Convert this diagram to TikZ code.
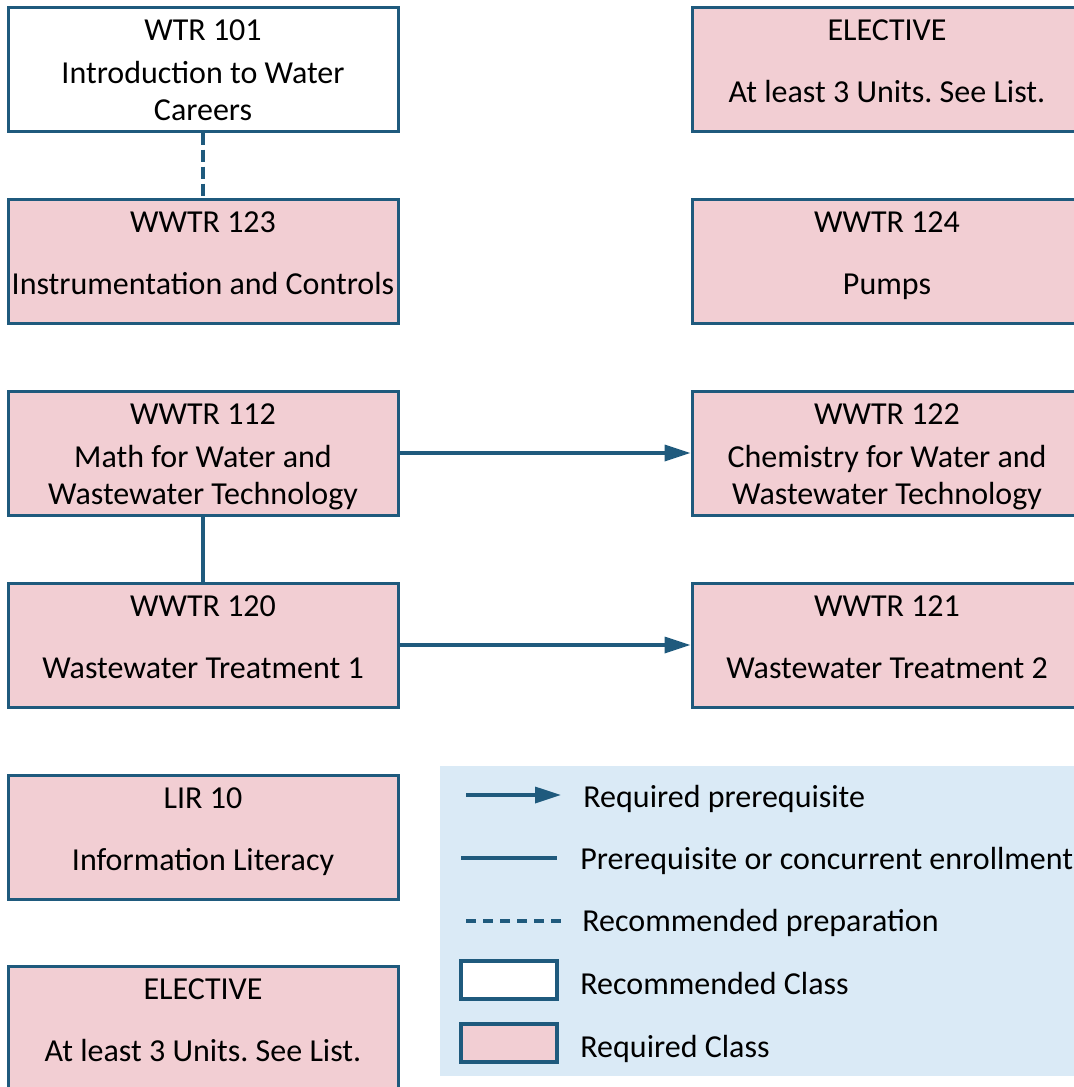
\documentclass[tikz,border=0pt]{standalone}
\usepackage{fontspec}
\setmainfont{Carlito}
\usepackage{xcolor}
\usepackage{tikz}
\usetikzlibrary{arrows.meta}
\frenchspacing

\definecolor{lineblue}{RGB}{31,90,125}
\definecolor{reqpink}{RGB}{242,206,211}
\definecolor{legendbg}{RGB}{218,234,246}

\tikzset{
    classbox/.style={draw=lineblue, line width=1.5pt, minimum width=195pt, minimum height=62pt, inner sep=0pt},
    recbox/.style={classbox, fill=white},
    reqbox/.style={classbox, fill=reqpink},
    keybox/.style={line width=2pt, minimum width=48pt, minimum height=19pt},
    txt/.style={font=\fontsize{16}{18.5}\selectfont, inner sep=0pt, text height=13pt, text depth=3pt},
    txttwo/.style={font=\fontsize{16}{18.5}\selectfont, inner sep=0pt, align=center},
    prereq/.style={draw=lineblue, line width=1.7pt, -{Triangle[length=13pt,width=8pt]}},
    coreq/.style={draw=lineblue, line width=1.7pt},
    recprep/.style={draw=lineblue, line width=1.7pt, dash pattern=on 6pt off 2.5pt},
}

\begin{document}
\begin{tikzpicture}[x=0.5pt,y=-0.5pt]
        \useasboundingbox (0,0) rectangle (1074,1087);
        \clip (0,0) rectangle (1074,1087);

        % class boxes
        \foreach \name/\x/\y/\kind in {wtr101/203/69/recbox, elecA/887/69/reqbox,
                wwtr123/203/261/reqbox, wwtr124/887/261/reqbox,
                wwtr112/203/453/reqbox, wwtr122/887/453/reqbox,
                wwtr120/203/645/reqbox, wwtr121/887/645/reqbox,
                lir10/203/837/reqbox, elecB/203/1028/reqbox}
            \node[\kind] (\name) at (\x,\y) {};

        % course numbers
        \foreach \name/\x/\y/\code in {wtr101/203/30/WTR 101, elecA/887/30/ELECTIVE,
                wwtr123/203/222/WWTR 123, wwtr124/887/222/WWTR 124,
                wwtr112/203/414/WWTR 112, wwtr122/887/414/WWTR 122,
                wwtr120/203/606/WWTR 120, wwtr121/887/606/WWTR 121,
                lir10/203/798/LIR 10, elecB/203/989/ELECTIVE}
            \node[txt] (\name-code) at (\x,\y) {\code};

        % course titles
        \node[txttwo] (wtr101-title) at (203,95) {\strut Introduction to Water\\\strut Careers};
        \node[txt] (elecA-title) at (887,92) {At least 3 Units. See List.};
        \node[txt] (wwtr123-title) at (203,284) {Instrumentation and Controls};
        \node[txt] (wwtr124-title) at (887,284) {Pumps};
        \node[txttwo] (wwtr112-title) at (203,479) {\strut Math for Water and\\\strut Wastewater Technology};
        \node[txttwo] (wwtr122-title) at (887,479) {\strut Chemistry for Water and\\\strut Wastewater Technology};
        \node[txt] (wwtr120-title) at (203,668) {Wastewater Treatment 1};
        \node[txt] (wwtr121-title) at (887,668) {Wastewater Treatment 2};
        \node[txt] (lir10-title) at (203,860) {Information Literacy};
        \node[txt] (elecB-title) at (203,1051) {At least 3 Units. See List.};

        % connectors
        \draw[recprep] (wtr101.south) -- (wwtr123.north);
        \draw[coreq] (wwtr112.south) -- (wwtr120.north);
        \draw[prereq] (wwtr112.east) -- (wwtr122.west);
        \draw[prereq] (wwtr120.east) -- (wwtr121.west);

        % legend
        \fill[legendbg] (440,766) rectangle (1080,1076);
        \coordinate (keyA1) at (466,795);
        \coordinate (keyA2) at (561,795);
        \coordinate (keyB1) at (461,858);
        \coordinate (keyB2) at (557,858);
        \coordinate (keyC1) at (466,921);
        \coordinate (keyC2) at (562,921);
        \draw[prereq] (keyA1) -- (keyA2);
        \draw[coreq] (keyB1) -- (keyB2);
        \draw[recprep, dash pattern=on 5pt off 3.5pt] (keyC1) -- (keyC2);
        \node[recbox, keybox] (keyrec) at (509,980) {};
        \node[reqbox, keybox] (keyreq) at (509,1042.5) {};

        \node[txt, anchor=west] (keyA-text) at (583,797) {Required prerequisite};
        \node[txt, anchor=west] (keyB-text) at (580,859) {Prerequisite or concurrent enrollment};
        \node[txt, anchor=west] (keyC-text) at (582,921) {Recommended preparation};
        \node[txt, anchor=west] (keyrec-text) at (580,984) {Recommended Class};
        \node[txt, anchor=west] (keyreq-text) at (580,1047) {Required Class};
\end{tikzpicture}
\end{document}
